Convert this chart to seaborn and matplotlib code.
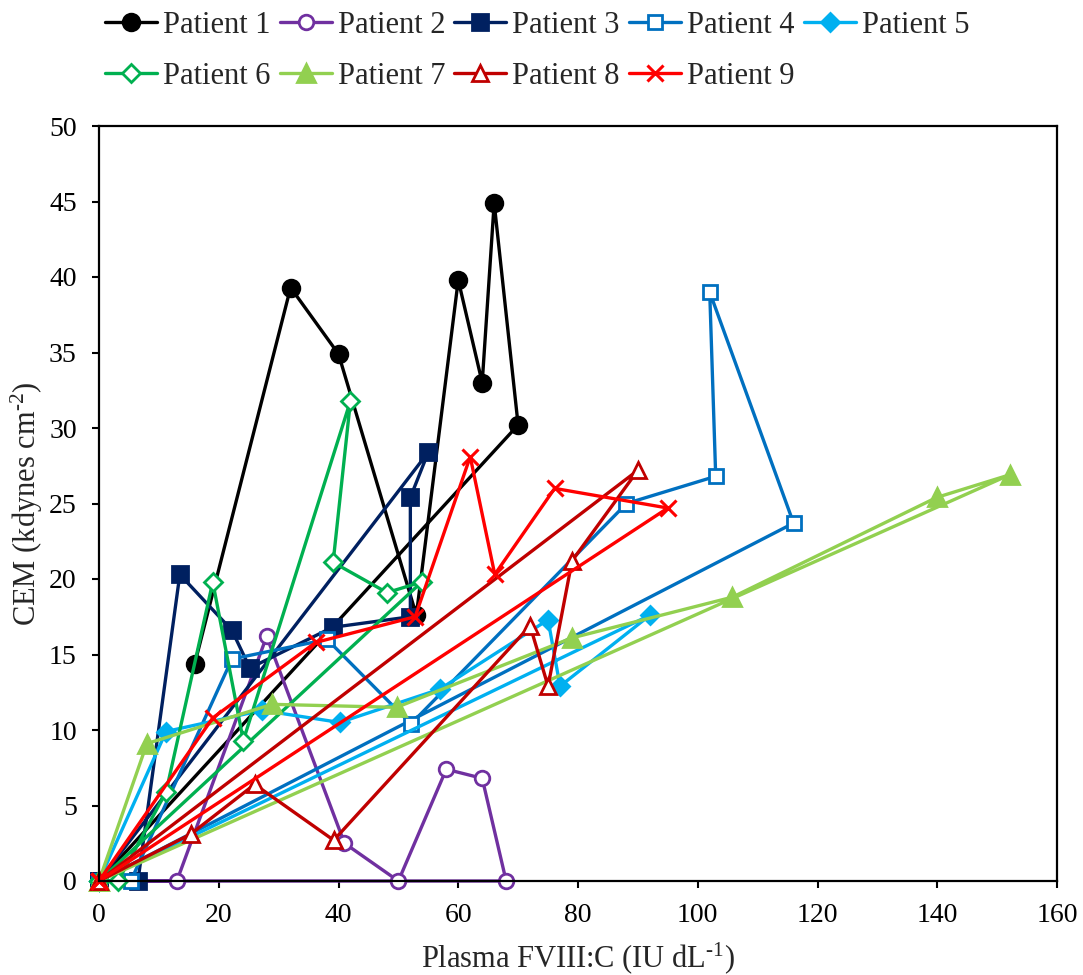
import matplotlib
matplotlib.use("Agg")
import matplotlib.pyplot as plt
import pandas as pd
import seaborn as sns

# ---- data (x: Plasma FVIII:C, y: CEM) in measurement order ----
p1_x = [16, 32, 40, 53, 60, 64, 66, 70, 0]
p1_y = [14.4, 39.3, 34.9, 17.6, 39.8, 33.0, 44.9, 30.2, 0]

p2_x = [0, 13, 28, 41, 50, 58, 64, 68, 0]
p2_y = [0, 0, 16.2, 2.5, 0, 7.4, 6.8, 0, 0]

p3_x = [0, 6.5, 13.5, 22.2, 25.2, 39, 52, 52, 55, 0]
p3_y = [0, 0, 20.3, 16.6, 14.1, 16.8, 17.5, 25.4, 28.4, 0]

p4_x = [0, 5.3, 22.2, 38.1, 52.1, 88.1, 103, 102, 116, 0]
p4_y = [0, 0, 14.7, 16.0, 10.4, 25.0, 26.8, 39.0, 23.7, 0]

p5_x = [0, 11.2, 27.2, 40.2, 56.9, 75, 77, 92, 0]
p5_y = [0, 9.9, 11.3, 10.5, 12.7, 17.3, 12.9, 17.6, 0]

p6_x = [0, 3.2, 11.2, 19, 24.1, 42, 39.1, 48.1, 53.9, 0]
p6_y = [0, 0, 5.9, 19.8, 9.3, 31.8, 21.1, 19.1, 19.8, 0]

p7_x = [0, 8, 28.9, 49.7, 79, 105.8, 139.9, 152.1, 0]
p7_y = [0, 9.1, 11.7, 11.5, 16.1, 18.8, 25.4, 26.9, 0]

p8_x = [0, 15.3, 26, 39.2, 72, 75, 79, 90, 0]
p8_y = [0, 3.1, 6.4, 2.7, 16.9, 12.9, 21.2, 27.2, 0]

p9_x = [0, 19, 36.2, 52.8, 62, 66.1, 76.1, 95, 0]
p9_y = [0, 10.8, 15.8, 17.5, 28.1, 20.3, 26.0, 24.7, 0]

labels = ["Patient 1", "Patient 2", "Patient 3", "Patient 4", "Patient 5",
          "Patient 6", "Patient 7", "Patient 8", "Patient 9"]
xs = [p1_x, p2_x, p3_x, p4_x, p5_x, p6_x, p7_x, p8_x, p9_x]
ys = [p1_y, p2_y, p3_y, p4_y, p5_y, p6_y, p7_y, p8_y, p9_y]

colors = ["#000000", "#7030A0", "#002060", "#0070C0", "#00B0F0",
          "#00B050", "#92D050", "#C00000", "#FF0000"]
markers = ["o", "o", "s", "s", "D", "D", "^", "^", "x"]
msizes = [12, 10.5, 11, 10, 9, 9, 12.5, 12, 12]
filled = [True, False, True, False, True, False, True, False, True]

sns.set_style("white")
plt.rcParams['font.family'] = ['Liberation Serif', 'DejaVu Serif']
plt.rcParams['mathtext.default'] = 'regular'

fig = plt.figure(figsize=(10.83, 9.75), dpi=100)
W, H = 1083, 975
ax = fig.add_axes([99 / W, 1 - 881 / H, (1057 - 99) / W, (881 - 126) / H])

for lab, x, y, c, m, ms, f in zip(labels, xs, ys, colors, markers, msizes, filled):
    df = pd.DataFrame({"x": x, "y": y})
    sns.lineplot(data=df, x="x", y="y", sort=False, estimator=None, ax=ax,
                 color=c, linewidth=2.4, marker=m, markersize=ms,
                 markerfacecolor=(c if f else "white"), markeredgecolor=c,
                 markeredgewidth=(2.2 if m == "x" else 2.0), label=lab,
                 clip_on=False)

if ax.get_legend() is not None:
    ax.get_legend().remove()

ax.set_xlim(0, 160)
ax.set_ylim(0, 50)
ax.set_xticks(range(0, 161, 20))
ax.set_yticks(range(0, 51, 5))
for s in ax.spines.values():
    s.set_linewidth(1.6)
    s.set_color("black")
ax.tick_params(axis="both", which="major", direction="out", length=5, width=1.5,
               labelsize=20, colors="black", bottom=True, left=True,
               top=False, right=False)
ax.tick_params(axis="x", pad=11)
ax.tick_params(axis="y", pad=11)

ax.set_xlabel("Plasma FVIII:C (IU dL$^{\u20101}$)", fontsize=22, labelpad=9)
ax.set_ylabel("CEM (kdynes cm$^{\u20102}$)", fontsize=22, labelpad=3)

handles, labs = ax.get_legend_handles_labels()
hmap = dict(zip(labs, handles))
order = ["Patient 1", "Patient 6", "Patient 2", "Patient 7", "Patient 3",
         "Patient 8", "Patient 4", "Patient 9", "Patient 5"]
fig.legend([hmap[o] for o in order], order, loc="upper left",
           bbox_to_anchor=(105 / W, 1 - 11 / H), ncol=5, frameon=False,
           fontsize=22, handlelength=1.7, handletextpad=0.2,
           columnspacing=0.3, labelspacing=0.72, borderaxespad=0, borderpad=0)

fig.savefig("out.png", dpi=100)
